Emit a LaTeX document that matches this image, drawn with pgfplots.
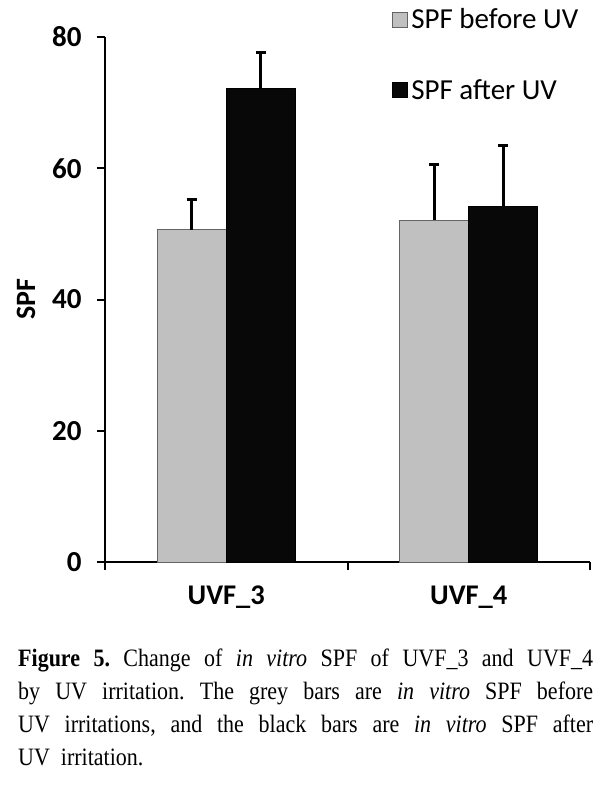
\documentclass[border=0pt]{standalone}
\usepackage{pgfplots}
\pgfplotsset{compat=1.18}
\usepackage{fontspec}
\setmainfont{Carlito}
\newfontfamily\capfont[FakeStretch=0.88]{Liberation Serif}

\definecolor{barGrey}{RGB}{192,192,192}
\definecolor{barEdge}{RGB}{100,100,100}
\definecolor{barBlack}{RGB}{8,8,8}

\begin{document}
\begin{tikzpicture}[x=1pt,y=1pt]
\useasboundingbox (0,0) rectangle (611,-790);
\begin{axis}[
  at={(105pt,-562pt)}, anchor=south west,
  scale only axis, width=485pt, height=525pt,
  xmin=-0.5, xmax=1.5, ymin=0, ymax=80,
  axis x line*=bottom, axis y line*=left,
  axis line style={line width=2.2pt, -},
  tick align=outside,
  tick style={line width=2pt, black},
  major tick length=8pt, minor tick length=8pt,
  ytick={0,20,40,60,80},
  yticklabels={0,20,40,60,80},
  yticklabel style={font=\bfseries\fontsize{29}{29}\selectfont, xshift=-12pt},
  xtick={0,1},
  xticklabels={UVF\_3,UVF\_4},
  major x tick style={draw=none},
  minor xtick={-0.5,0.5,1.5},
  xticklabel style={font=\bfseries\fontsize{28.5}{28.5}\selectfont, yshift=-12pt},
  ylabel={SPF},
  ylabel style={font=\bfseries\fontsize{28}{28}\selectfont, at={(ticklabel cs:0.5)}, yshift=10pt},
  legend style={at={(0.592,1.06)}, anchor=north west, draw=none, fill=none,
    font=\fontsize{29}{29}\selectfont, row sep=43pt, inner sep=0pt,
    nodes={inner sep=3pt}},
  legend cell align=left,
  clip=false,
]
% grey bars: SPF before UV
\addplot[ybar, bar width=69pt, bar shift=0pt, fill=barGrey, draw=barEdge, line width=1pt,
  legend image code/.code={\draw[fill=barGrey, draw=barEdge, line width=1pt] (0pt,-7.5pt) rectangle (15pt,7.5pt);},
  error bars/.cd, y dir=plus, y explicit,
  error bar style={line width=3pt, black},
  error mark options={rotate=90, line width=3pt, mark size=5pt, black}]
  coordinates {(-0.1423,50.6) +- (0,4.7) (0.8577,52.1) +- (0,8.5)};
\addlegendentry{SPF before UV}
% black bars: SPF after UV
\addplot[ybar, bar width=69pt, bar shift=0pt, fill=barBlack, draw=black, line width=1pt,
  legend image code/.code={\draw[fill=barBlack, draw=black, line width=1pt] (0pt,-7.5pt) rectangle (15pt,7.5pt);},
  error bars/.cd, y dir=plus, y explicit,
  error bar style={line width=3pt, black},
  error mark options={rotate=90, line width=3pt, mark size=5pt, black}]
  coordinates {(0.1423,72.2) +- (0,5.5) (1.1423,54.2) +- (0,9.2)};
\addlegendentry{SPF after UV}
\end{axis}
\node[anchor=north west, text width=575pt, align=justify, inner sep=0pt,
  font=\capfont\fontsize{25}{33}\selectfont\frenchspacing] at (18,-649)
  {\textbf{Figure 5.} Change of \textit{in vitro} SPF of UVF\_3 and UVF\_4\linebreak
   by UV irritation. The grey bars are \textit{in vitro} SPF before\linebreak
   UV irritations, and the black bars are \textit{in vitro} SPF after\linebreak
   UV\ \ irritation.};
\end{tikzpicture}
\end{document}
